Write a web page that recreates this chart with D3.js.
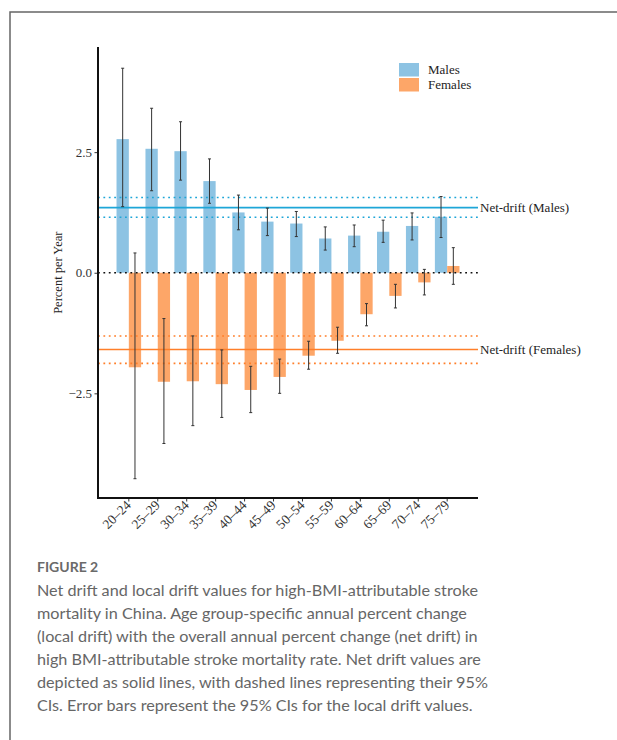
<!DOCTYPE html>
<html>
<head>
<meta charset="utf-8">
<script src="https://cdn.jsdelivr.net/npm/d3@7"></script>
<style>
  html, body { margin: 0; padding: 0; background: #fff; }
  svg { display: block; }
</style>
</head>
<body>
<script>
// Age groups and local drift (annual percent change) with 95% CIs
const ageGroups = ["20–24","25–29","30–34","35–39","40–44","45–49","50–54","55–59","60–64","65–69","70–74","75–79"];
const malesDrift = [2.77, 2.57, 2.52, 1.90, 1.25, 1.06, 1.02, 0.71, 0.77, 0.85, 0.97, 1.16];
const malesLow   = [1.37, 1.70, 1.92, 1.44, 0.89, 0.77, 0.75, 0.47, 0.54, 0.63, 0.68, 0.73];
const malesHigh  = [4.24, 3.41, 3.13, 2.36, 1.61, 1.34, 1.27, 0.95, 0.99, 1.09, 1.24, 1.58];
const femalesDrift = [-1.96, -2.26, -2.25, -2.31, -2.43, -2.16, -1.72, -1.41, -0.86, -0.48, -0.20, 0.14];
const femalesLow   = [-4.27, -3.54, -3.17, -3.00, -2.90, -2.50, -2.00, -1.67, -1.10, -0.73, -0.46, -0.24];
const femalesHigh  = [0.41, -0.95, -1.31, -1.60, -1.94, -1.79, -1.42, -1.13, -0.64, -0.24, 0.07, 0.52];

// Net drift (solid) with 95% CI (dotted)
const sexes = ["Males", "Females"];
const netDrift = [1.35, -1.59];
const netLow   = [1.15, -1.88];
const netHigh  = [1.56, -1.31];
const netLabels = ["Net-drift (Males)", "Net-drift (Females)"];
const yTicks = [-2.5, 0, 2.5];

const barColor = { Males: "#8dc3e3", Females: "#fda668" };
const lineColor = { Males: "#1ea6d8", Females: "#ff7f2a" };

const W = 617, H = 740;
const svg = d3.select("body").append("svg").attr("width", W).attr("height", H);
svg.append("rect").attr("width", W).attr("height", H).attr("fill", "#fff");

// Figure frame (top and left rule)
svg.append("path").attr("d", `M10,${H} V12 H${W}`)
  .attr("fill", "none").attr("stroke", "#666").attr("stroke-width", 1.5);

const plot = { left: 98, right: 478, top: 47, bottom: 498 };
const serif = "'Liberation Serif', 'Times New Roman', serif";

const x = d3.scaleBand().domain(ageGroups).range([plot.left, plot.right])
  .paddingInner(0.15).paddingOuter(0.64);
const xs = d3.scaleBand().domain(sexes).range([0, x.bandwidth()]);
const y = d3.scaleLinear().domain([-4.67, 4.68]).range([plot.bottom, plot.top]);

const rows = [];
ageGroups.forEach((g, i) => {
  rows.push({ g, sex: "Males", v: malesDrift[i], lo: malesLow[i], hi: malesHigh[i] });
  rows.push({ g, sex: "Females", v: femalesDrift[i], lo: femalesLow[i], hi: femalesHigh[i] });
});

// Bars
svg.append("g").selectAll("rect").data(rows).join("rect")
  .attr("x", d => x(d.g) + xs(d.sex))
  .attr("width", xs.bandwidth())
  .attr("y", d => y(Math.max(0, d.v)))
  .attr("height", d => Math.abs(y(d.v) - y(0)))
  .attr("fill", d => barColor[d.sex]);

// Zero reference line
svg.append("line")
  .attr("x1", plot.left).attr("x2", plot.right)
  .attr("y1", y(0)).attr("y2", y(0))
  .attr("stroke", "#111").attr("stroke-width", 1.6)
  .attr("stroke-dasharray", "1.8,3.6");

// Net drift lines and their CIs
sexes.forEach((s, i) => {
  const g = svg.append("g");
  [netLow[i], netHigh[i]].forEach(v => {
    g.append("line")
      .attr("x1", plot.left).attr("x2", plot.right)
      .attr("y1", y(v)).attr("y2", y(v))
      .attr("stroke", lineColor[s]).attr("stroke-width", 1.6)
      .attr("stroke-dasharray", "1.8,3.6");
  });
  g.append("line")
    .attr("x1", plot.left).attr("x2", plot.right)
    .attr("y1", y(netDrift[i])).attr("y2", y(netDrift[i]))
    .attr("stroke", lineColor[s]).attr("stroke-width", 1.6);
  g.append("text")
    .attr("x", plot.right + 2).attr("y", y(netDrift[i]))
    .attr("dy", "0.35em")
    .attr("font-family", serif).attr("font-size", 13).attr("fill", "#222")
    .text(netLabels[i]);
});

// Error bars
const eb = svg.append("g").attr("stroke", "#333").attr("stroke-width", 1);
rows.forEach(d => {
  const cx = x(d.g) + xs(d.sex) + xs.bandwidth() / 2;
  eb.append("line").attr("x1", cx).attr("x2", cx).attr("y1", y(d.lo)).attr("y2", y(d.hi));
  [d.lo, d.hi].forEach(v => eb.append("line")
    .attr("x1", cx - 1.5).attr("x2", cx + 1.5).attr("y1", y(v)).attr("y2", y(v)));
});

// Axes
const yAxis = svg.append("g").attr("transform", `translate(${plot.left},0)`)
  .call(d3.axisLeft(y).tickValues(yTicks).tickFormat(d3.format(".1f")).tickSize(3.5).tickPadding(2.5));
yAxis.select(".domain").remove();
yAxis.append("line").attr("x1", 0).attr("x2", 0).attr("y1", plot.top).attr("y2", plot.bottom + 1)
  .attr("stroke", "#111").attr("stroke-width", 2);
yAxis.selectAll(".tick line").attr("stroke", "#333");
yAxis.selectAll(".tick text").attr("font-family", serif).attr("font-size", 13).attr("fill", "#333");

const xAxis = svg.append("g").attr("transform", `translate(0,${plot.bottom})`)
  .call(d3.axisBottom(x).tickSize(3.5).tickPadding(2));
xAxis.select(".domain").remove();
xAxis.append("line").attr("x1", plot.left - 1).attr("x2", plot.right).attr("y1", 0).attr("y2", 0)
  .attr("stroke", "#111").attr("stroke-width", 2);
xAxis.selectAll(".tick line").attr("stroke", "#333");
xAxis.selectAll(".tick text")
  .attr("font-family", serif).attr("font-size", 13.5).attr("fill", "#333")
  .attr("text-anchor", "end")
  .attr("dy", null).attr("y", 0)
  .attr("transform", "translate(3,8) rotate(-45)");

// Y axis title
svg.append("text")
  .attr("transform", `translate(62,${y(0)}) rotate(-90)`)
  .attr("text-anchor", "middle")
  .attr("font-family", serif).attr("font-size", 12.5).attr("fill", "#222")
  .text("Percent per Year");

// Legend
const legend = svg.append("g").attr("transform", "translate(399,63)");
sexes.forEach((s, i) => {
  legend.append("rect").attr("x", 0).attr("y", i * 15).attr("width", 20).attr("height", 13.5)
    .attr("fill", barColor[s]);
  legend.append("text").attr("x", 29).attr("y", i * 15 + 11)
    .attr("font-family", serif).attr("font-size", 13).attr("fill", "#222").text(s);
});

// Caption
const sans = "Lato, 'Open Sans', sans-serif";
svg.append("text").attr("x", 37).attr("y", 572)
  .attr("font-family", sans).attr("font-size", 14).attr("font-weight", 700)
  .attr("fill", "#6a6a6a").text("FIGURE 2");
const captionLines = [
  "Net drift and local drift values for high-BMI-attributable stroke",
  "mortality in China. Age group-specific annual percent change",
  "(local drift) with the overall annual percent change (net drift) in",
  "high BMI-attributable stroke mortality rate. Net drift values are",
  "depicted as solid lines, with dashed lines representing their 95%",
  "CIs. Error bars represent the 95% CIs for the local drift values."
];
svg.append("g").selectAll("text").data(captionLines).join("text")
  .attr("x", 37).attr("y", (d, i) => 596 + i * 23)
  .attr("font-family", sans).attr("font-size", 16.2).attr("fill", "#666")
  .text(d => d);
</script>
</body>
</html>
